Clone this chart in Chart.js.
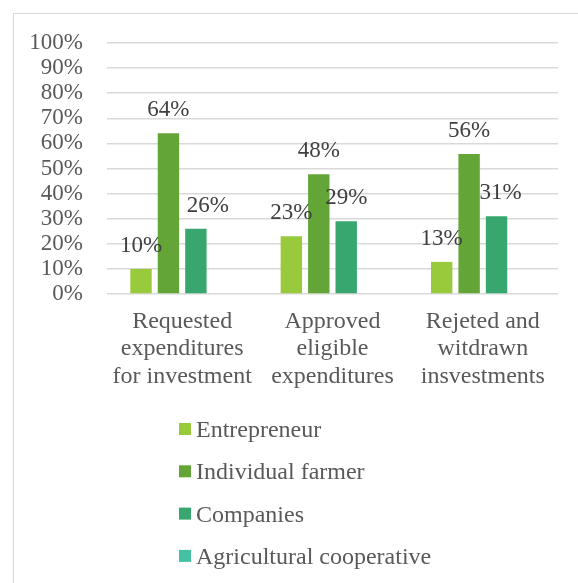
<!DOCTYPE html>
<html><head><meta charset="utf-8">
<script src="https://cdn.jsdelivr.net/npm/chart.js@4/dist/chart.umd.min.js"></script>
<style>html,body{margin:0;padding:0;background:#fff}#wrap{width:578px;height:583px;position:relative}</style>
</head><body><div id="wrap"><canvas id="c"></canvas></div>
<script>
// ---- data ----
const categories = [
  ["Requested", "expenditures", "for investment"],
  ["Approved", "eligible", "expenditures"],
  ["Rejeted and", "witdrawn", "insvestments"]
];
const seriesNames = ["Entrepreneur", "Individual farmer", "Companies", "Agricultural cooperative"];
const entrepreneur = [10, 23, 12.8];
const individualFarmer = [64, 47.7, 55.8];
const companies = [26, 29, 31];
const agriculturalCooperative = [null, null, null];
const yMin = 0, yMax = 100, yStep = 10;

// ---- style ----
const colors = ["#99CA3C", "#63A537", "#37A76F", "#44C1A3"];
const FONT = '"Liberation Serif", "Times New Roman", serif';
const FS_NUM = 23;
const FS_TXT = 24;
const labelNudgeX = {"2-0": 12, "2-2": 4};

const frame = {
  id: 'frame',
  beforeDraw(chart) {
    const ctx = chart.ctx;
    ctx.save();
    ctx.fillStyle = '#fff';
    ctx.fillRect(0, 0, chart.width, chart.height);
    ctx.strokeStyle = '#d9d9d9';
    ctx.lineWidth = 1;
    ctx.strokeRect(13.5, 13.5, 1000, 1000);
    ctx.restore();
  }
};

const dataLabels = {
  id: 'dataLabels',
  afterDatasetsDraw(chart) {
    const ctx = chart.ctx;
    ctx.save();
    ctx.font = FS_NUM + 'px ' + FONT;
    ctx.fillStyle = '#404040';
    ctx.textAlign = 'center';
    ctx.textBaseline = 'alphabetic';
    chart.data.datasets.forEach((ds, di) => {
      const meta = chart.getDatasetMeta(di);
      meta.data.forEach((bar, i) => {
        const v = ds.data[i];
        if (v == null) return;
        const dx = labelNudgeX[di + '-' + i] || 0;
        ctx.fillText(Math.round(v) + '%', bar.x + dx, bar.y - 17);
      });
    });
    ctx.restore();
  }
};

const vLegend = {
  id: 'vLegend',
  afterDraw(chart) {
    const ctx = chart.ctx;
    ctx.save();
    ctx.font = FS_TXT + 'px ' + FONT;
    ctx.textAlign = 'left';
    ctx.textBaseline = 'alphabetic';
    const x0 = 179, base0 = chart.chartArea.bottom + 143, step = 42.3;
    chart.data.datasets.forEach((ds, di) => {
      const yb = base0 + di * step;
      ctx.fillStyle = ds.backgroundColor;
      ctx.fillRect(x0, yb - 14, 12, 12);
      ctx.fillStyle = '#595959';
      ctx.fillText(ds.label, x0 + 17, yb);
    });
    ctx.restore();
  }
};

const seriesData = [entrepreneur, individualFarmer, companies, agriculturalCooperative];

new Chart(document.getElementById('c'), {
  type: 'bar',
  data: {
    labels: categories,
    datasets: seriesNames.map((n, i) => ({
      label: n,
      data: seriesData[i],
      backgroundColor: colors[i],
      categoryPercentage: 0.73,
      barPercentage: 0.78
    }))
  },
  options: {
    responsive: true,
    maintainAspectRatio: false,
    animation: false,
    devicePixelRatio: 1,
    layout: {padding: {left: 20, right: 20, top: 43, bottom: 189}},
    plugins: {legend: {display: false}, tooltip: {enabled: false}},
    scales: {
      x: {
        grid: {display: false, drawTicks: false},
        border: {display: false},
        ticks: {color: '#595959', font: {family: FONT, size: FS_TXT, lineHeight: 1.14}, padding: 14, maxRotation: 0, autoSkip: false},
        afterFit(s) { s.height = 100; }
      },
      y: {
        min: yMin, max: yMax,
        grid: {color: '#d9d9d9', lineWidth: 1.5, drawTicks: false},
        border: {display: false},
        ticks: {stepSize: yStep, autoSkip: false, color: '#595959', font: {family: FONT, size: FS_NUM}, padding: 24, callback: v => v + '%'},
        afterFit(s) { s.width = 87; }
      }
    }
  },
  plugins: [frame, dataLabels, vLegend]
});
</script>
</body></html>
